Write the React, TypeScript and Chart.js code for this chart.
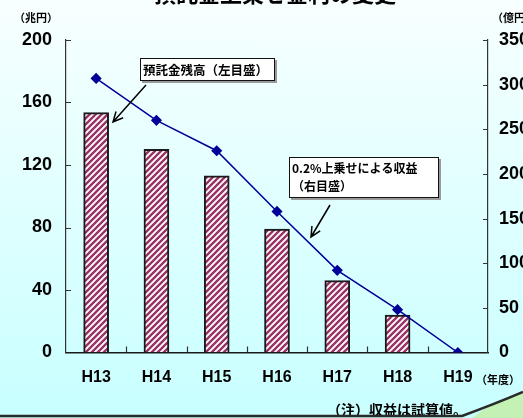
import React, { useEffect, useRef } from "react";
import { Chart, registerables } from "chart.js";

Chart.register(...registerables);

const categories = ["H13", "H14", "H15", "H16", "H17", "H18", "H19"];
const depositBalance = [153.5, 130, 113, 79, 46, 24, null]; // 兆円 (left)
const surchargeIncome = [307, 260, 226, 158, 92, 48, 0]; // 億円 (right)
const leftTickValues = [0, 40, 80, 120, 160, 200];
const rightTickValues = [0, 50, 100, 150, 200, 250, 300, 350];

const titleText = "預託金上乗せ金利の変更";
const leftUnit = "（兆円）";
const rightUnit = "（億円）";
const xUnit = "（年度）";
const noteText = "（注）収益は試算値。";
const balanceLabel = "預託金残高（左目盛）";
const incomeLabel = ["0.2%上乗せによる収益", "（右目盛）"];

const W = 523;
const H = 418;
const JP = '"Noto Sans CJK JP", "Noto Sans", sans-serif';
const LAT = '"Liberation Sans", Arial, sans-serif';

function makePattern(): CanvasPattern | string {
  const pc = document.createElement("canvas");
  pc.width = 6;
  pc.height = 6;
  const g = pc.getContext("2d");
  if (!g) return "#993366";
  g.fillStyle = "#ffffff";
  g.fillRect(0, 0, 6, 6);
  g.strokeStyle = "#993366";
  g.lineWidth = 2.4;
  g.beginPath();
  g.moveTo(-1, 7);
  g.lineTo(7, -1);
  g.moveTo(-4, 4);
  g.lineTo(4, -4);
  g.moveTo(2, 10);
  g.lineTo(10, 2);
  g.stroke();
  const p = g.createPattern(pc, "repeat");
  return p || "#993366";
}

function arrow(ctx: CanvasRenderingContext2D, x1: number, y1: number, x2: number, y2: number) {
  ctx.save();
  ctx.strokeStyle = "#000";
  ctx.lineWidth = 1.5;
  ctx.beginPath();
  ctx.moveTo(x1, y1);
  ctx.lineTo(x2, y2);
  const a = Math.atan2(y2 - y1, x2 - x1);
  const L = 11;
  ctx.moveTo(x2 - L * Math.cos(a - 0.45), y2 - L * Math.sin(a - 0.45));
  ctx.lineTo(x2, y2);
  ctx.lineTo(x2 - L * Math.cos(a + 0.45), y2 - L * Math.sin(a + 0.45));
  ctx.stroke();
  ctx.restore();
}

function labelBox(ctx: CanvasRenderingContext2D, x: number, y: number, w: number, h: number) {
  ctx.save();
  ctx.fillStyle = "#9a9a9a";
  ctx.fillRect(x + 2, y + 2, w, h);
  ctx.fillStyle = "#ffffff";
  ctx.fillRect(x, y, w, h);
  ctx.strokeStyle = "#111";
  ctx.lineWidth = 1;
  ctx.strokeRect(x + 0.5, y + 0.5, w - 1, h - 1);
  ctx.restore();
}

const decorPlugin = {
  id: "decor",
  afterDraw(chart: any) {
    const ctx: CanvasRenderingContext2D = chart.ctx;
    const area = chart.chartArea;
    const ys = chart.scales.y;
    const y1s = chart.scales.y1;
    const xs = chart.scales.x;
    ctx.save();
    // inward tick marks
    ctx.strokeStyle = "#333";
    ctx.lineWidth = 1.2;
    ctx.beginPath();
    leftTickValues.forEach((v) => {
      if (v === 0) return;
      const py = Math.round(ys.getPixelForValue(v)) + 0.5;
      ctx.moveTo(area.left, py);
      ctx.lineTo(area.left + 5, py);
    });
    rightTickValues.forEach((v) => {
      if (v === 0) return;
      const py = Math.round(y1s.getPixelForValue(v)) + 0.5;
      ctx.moveTo(area.right, py);
      ctx.lineTo(area.right - 5, py);
    });
    for (let i = 0; i < categories.length - 1; i++) {
      const px = Math.round((xs.getPixelForValue(i) + xs.getPixelForValue(i + 1)) / 2) + 0.5;
      ctx.moveTo(px, area.bottom);
      ctx.lineTo(px, area.bottom - 6);
    }
    ctx.stroke();

    // title (cut off at top)
    ctx.fillStyle = "#000";
    ctx.font = `bold 22px ${JP}`;
    ctx.textAlign = "center";
    ctx.textBaseline = "bottom";
    ctx.fillText(titleText, 275, 5);

    // units
    ctx.font = `bold 11px ${JP}`;
    ctx.textAlign = "left";
    ctx.textBaseline = "middle";
    ctx.fillText(leftUnit, 14, 18);
    ctx.fillText(rightUnit, 492, 18);
    ctx.fillText(xUnit, 476, 380);

    // note
    ctx.font = `bold 14px ${JP}`;
    ctx.fillText(noteText, 327, 410);

    // annotation boxes
    labelBox(ctx, 140, 58, 135, 23);
    ctx.fillStyle = "#000";
    ctx.font = `bold 12.5px ${JP}`;
    ctx.textAlign = "left";
    ctx.textBaseline = "middle";
    ctx.fillText(balanceLabel, 143, 70);
    arrow(ctx, 146, 85, 113, 122);

    labelBox(ctx, 289, 157, 150, 41);
    ctx.fillStyle = "#000";
    ctx.font = `bold 12px ${JP}`;
    ctx.fillText(incomeLabel[0], 292, 168);
    ctx.fillText(incomeLabel[1], 292, 186);
    arrow(ctx, 330, 205, 311, 237);

    // bottom frame and green corner
    ctx.fillStyle = "#c4f2b4";
    ctx.beginPath();
    ctx.moveTo(472, 418);
    ctx.quadraticCurveTo(495, 400, 523, 392);
    ctx.lineTo(523, 418);
    ctx.closePath();
    ctx.fill();
    ctx.strokeStyle = "#2a2a2a";
    ctx.lineWidth = 2.5;
    ctx.beginPath();
    ctx.moveTo(0, 416);
    ctx.lineTo(462, 416);
    ctx.quadraticCurveTo(495, 404, 523, 392);
    ctx.stroke();
    ctx.restore();
  },
};

export default function App() {
  const ref = useRef<HTMLCanvasElement | null>(null);

  useEffect(() => {
    if (!ref.current) return;
    const pattern = makePattern();
    const chart = new Chart(ref.current, {
      type: "bar",
      data: {
        labels: categories,
        datasets: [
          {
            type: "line",
            label: "0.2%上乗せによる収益",
            data: surchargeIncome,
            yAxisID: "y1",
            borderColor: "#000099",
            backgroundColor: "#000099",
            borderWidth: 1.5,
            pointStyle: "rectRot",
            pointRadius: 4.5,
            pointBackgroundColor: "#000099",
            pointBorderColor: "#000099",
            tension: 0,
            order: 0,
          } as any,
          {
            type: "bar",
            label: "預託金残高",
            data: depositBalance,
            yAxisID: "y",
            backgroundColor: pattern as any,
            borderColor: "#1a1a1a",
            borderWidth: 2,
            barThickness: 25,
            order: 1,
          } as any,
        ],
      },
      options: {
        responsive: false,
        maintainAspectRatio: false,
        animation: false,
        layout: { padding: { top: 40, left: 0, right: 0, bottom: 0 } },
        plugins: {
          legend: { display: false },
          tooltip: { enabled: false },
          title: { display: false },
        },
        scales: {
          x: {
            type: "category",
            offset: true,
            grid: { display: true, drawOnChartArea: false, drawTicks: false, color: "rgba(0,0,0,0)" },
            border: { display: true, color: "#1a1a1a", width: 1.5 },
            ticks: {
              color: "#000",
              font: { family: LAT, size: 16, weight: "bold" },
              padding: 15,
              maxRotation: 0,
              autoSkip: false,
            },
            afterFit: (s: any) => {
              s.height = H - 352.5;
            },
          },
          y: {
            type: "linear",
            position: "left",
            min: 0,
            max: 200,
            afterBuildTicks: (s: any) => {
              s.ticks = leftTickValues.map((v) => ({ value: v }));
            },
            grid: { display: true, drawOnChartArea: false, drawTicks: false, color: "rgba(0,0,0,0)" },
            border: { display: true, color: "#333", width: 1.2 },
            ticks: {
              color: "#000",
              font: { family: LAT, size: 18, weight: "bold" },
              padding: 14,
            },
            afterFit: (s: any) => {
              s.width = 66;
            },
          },
          y1: {
            type: "linear",
            position: "right",
            min: 0,
            max: 350,
            afterBuildTicks: (s: any) => {
              s.ticks = rightTickValues.map((v) => ({ value: v }));
            },
            grid: { display: true, drawOnChartArea: false, drawTicks: false, color: "rgba(0,0,0,0)" },
            border: { display: true, color: "#333", width: 1.2 },
            ticks: {
              color: "#000",
              font: { family: LAT, size: 18, weight: "bold" },
              padding: 11,
            },
            afterFit: (s: any) => {
              s.width = W - 488;
            },
          },
        },
      },
      plugins: [decorPlugin],
    });
    return () => chart.destroy();
  }, []);

  return (
    <div
      style={{
        position: "fixed",
        left: 0,
        top: 0,
        width: W,
        height: H,
        background: "linear-gradient(to bottom, #f8ffff 0%, #e2ffff 45%, #c8ffff 100%)",
        overflow: "hidden",
      }}
    >
      <canvas ref={ref} width={W} height={H} style={{ display: "block", width: W, height: H }} />
    </div>
  );
}
